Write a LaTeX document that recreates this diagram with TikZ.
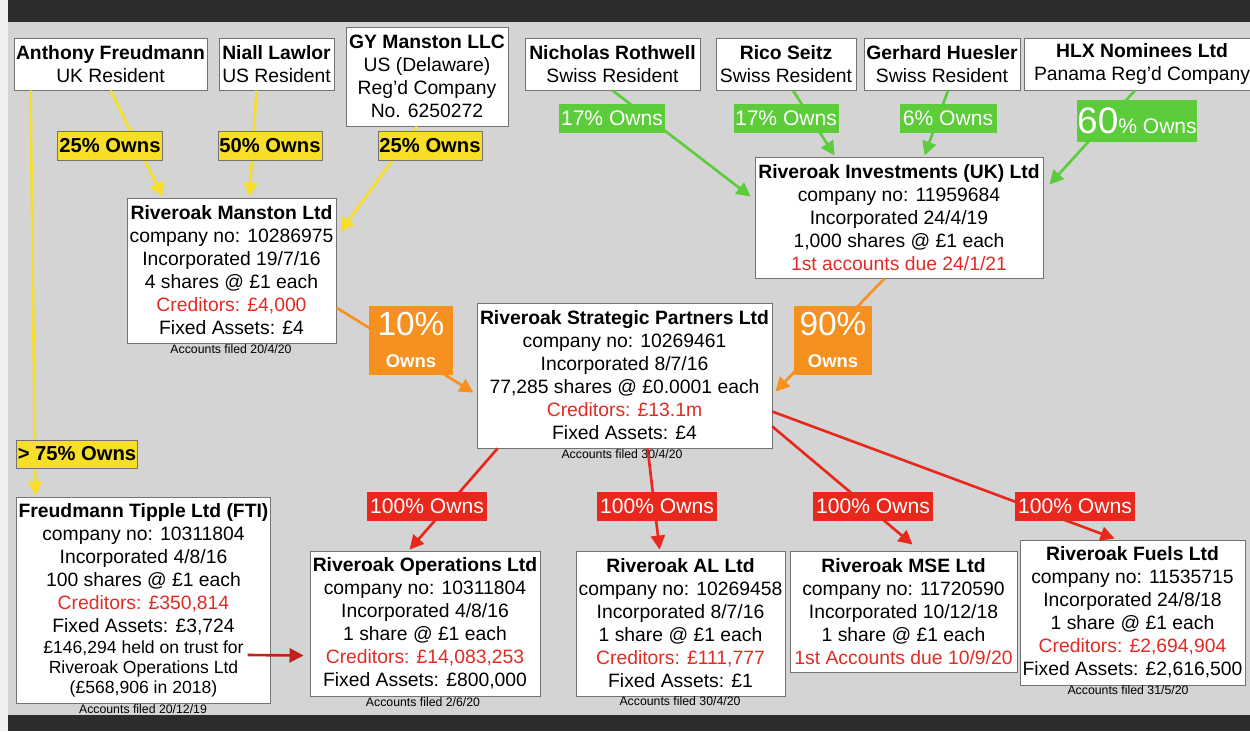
\documentclass[tikz,border=0pt]{standalone}
\usepackage{fontspec}
\setmainfont{Liberation Sans}
\usetikzlibrary{calc,arrows.meta}

\definecolor{bggray}{RGB}{212,212,212}
\definecolor{bandgray}{RGB}{44,44,44}
\definecolor{ownyellow}{RGB}{247,222,40}
\definecolor{owngreen}{RGB}{92,204,58}
\definecolor{ownorange}{RGB}{246,144,30}
\definecolor{ownred}{RGB}{232,40,28}
\definecolor{trustred}{RGB}{190,34,24}
\definecolor{credred}{RGB}{224,44,36}
\newcommand{\credtext}[1]{\textcolor{credred}{#1}}

\begin{document}
\begin{tikzpicture}[%
x=0.02cm, y=-0.02cm,
person/.style={fill=white, draw=black!55, line width=0.5pt, align=center, inner sep=1pt,
  minimum height=1.04cm, font=\fontsize{11}{13.1}\selectfont},
company/.style={person, minimum height=2.9cm},
filednote/.style={inner sep=0pt, font=\fontsize{7}{8}\selectfont},
ytag/.style={fill=ownyellow, draw=black!55, line width=0.4pt, inner sep=0pt, minimum height=0.58cm,
  font=\bfseries\fontsize{11.5}{13}\selectfont},
gtag/.style={fill=owngreen, text=white, inner sep=0pt, minimum height=0.58cm, font=\fontsize{12}{14}\selectfont},
rtag/.style={fill=ownred, text=white, inner sep=0pt, minimum height=0.58cm, font=\fontsize{12}{14}\selectfont},
otag/.style={fill=ownorange, text=white, align=center, inner sep=0pt, minimum height=1.38cm,
  font=\fontsize{10.5}{18}\selectfont},
owns/.style={line width=1.5pt, -{Triangle[length=8pt,width=8pt]}},
yown/.style={owns, draw=ownyellow},
gown/.style={owns, draw=owngreen},
oown/.style={owns, draw=ownorange},
rown/.style={owns, draw=ownred},
trust/.style={owns, draw=trustred},
]
\clip (0,0) rectangle (1250,731);
%% frame;
\fill [color=bggray] (0,0) rectangle (1250,731);
\fill [color=black!6] (0,0) rectangle (8,731);
\fill [color=bandgray] (8,0) rectangle (1250,22);
\fill [color=bandgray] (8,715) rectangle (1250,731);

%% owners;
\node [person, minimum width=3.86cm] (anthony) at (110.5,64) {\textbf{Anthony Freudmann}\\UK Resident};
\node [person, minimum width=2.3cm] (niall) at (276.5,64) {\textbf{Niall Lawlor}\\US Resident};
\node [person, minimum width=3.24cm, minimum height=1.98cm] (gyllc) at (427,76.5) {\textbf{GY Manston LLC}\\US (Delaware)\\Reg'd Company\\No. 6250272};
\node [person, minimum width=3.5cm] (nicholas) at (612.5,64) {\textbf{Nicholas Rothwell}\\Swiss Resident};
\node [person, minimum width=2.8cm] (rico) at (786,64) {\textbf{Rico Seitz}\\Swiss Resident};
\node [person, minimum width=3.12cm] (gerhard) at (942,64) {\textbf{Gerhard Huesler}\\Swiss Resident};
\node [person, minimum width=4.7cm] (hlx) at (1142,64) {\textbf{HLX Nominees Ltd}\\Panama Reg'd Company};

%% companies;
\node [company, minimum width=4.18cm] (manston) at (231.5,270.5) {\textbf{Riveroak Manston Ltd}\\company no: 10286975\\Incorporated 19/7/16\\4 shares @ £1 each\\\credtext{Creditors: £4,000}\\Fixed Assets: £4};
\node [company, minimum width=5.76cm, minimum height=2.42cm] (invest) at (899,217.5) {\textbf{Riveroak Investments (UK) Ltd}\\company no: 11959684\\Incorporated 24/4/19\\1,000 shares @ £1 each\\\credtext{1st accounts due 24/1/21}};
\node [company, minimum width=5.9cm] (strategic) at (624.5,375.5) {\textbf{Riveroak Strategic Partners Ltd}\\company no: 10269461\\Incorporated 8/7/16\\77,285 shares @ £0.0001 each\\\credtext{Creditors: £13.1m}\\Fixed Assets: £4};
\node [company, minimum width=5.06cm, minimum height=4.12cm] (fti) at (143.5,600) {\textbf{Freudmann Tipple Ltd (FTI)}\\company no: 10311804\\Incorporated 4/8/16\\100 shares @ £1 each\\\credtext{Creditors: £350,814}\\Fixed Assets: £3,724\\[-1pt]\fontsize{10}{11}\selectfont £146,294 held on trust for\\[-1.7pt]\fontsize{10}{11}\selectfont Riveroak Operations Ltd\\[-1.7pt]\fontsize{10}{11}\selectfont (£568,906 in 2018)};
\node [company, minimum width=4.6cm] (operations) at (425,623.5) {\textbf{Riveroak Operations Ltd}\\company no: 10311804\\Incorporated 4/8/16\\1 share @ £1 each\\\credtext{Creditors: £14,083,253}\\Fixed Assets: £800,000};
\node [company, minimum width=4.18cm] (al) at (680.5,623.5) {\textbf{Riveroak AL Ltd}\\company no: 10269458\\Incorporated 8/7/16\\1 share @ £1 each\\\credtext{Creditors: £111,777}\\Fixed Assets: £1};
\node [company, minimum width=4.54cm, minimum height=2.42cm] (mse) at (903.5,611.5) {\textbf{Riveroak MSE Ltd}\\company no: 11720590\\Incorporated 10/12/18\\1 share @ £1 each\\\credtext{1st Accounts due 10/9/20}};
\node [company, minimum width=4.5cm] (fuels) at (1132.5,612.5) {\textbf{Riveroak Fuels Ltd}\\company no: 11535715\\Incorporated 24/8/18\\1 share @ £1 each\\\credtext{Creditors: £2,694,904}\\Fixed Assets: £2,616,500};

%% accounts filed;
\node [filednote] (manstonfiled) at (231,349) {Accounts filed 20/4/20};
\node [filednote] (strategicfiled) at (622,454) {Accounts filed 30/4/20};
\node [filednote] (ftifiled) at (143,709) {Accounts filed 20/12/19};
\node [filednote] (operationsfiled) at (423,702) {Accounts filed 2/6/20};
\node [filednote] (alfiled) at (680,701) {Accounts filed 30/4/20};
\node [filednote] (fuelsfiled) at (1128,690) {Accounts filed 31/5/20};

%% yellow owns;
\draw [yown] (anthony.south) -- ($(manston.north west)+(36,-1)$);
\draw [yown] ($(niall.south)+(-20,0)$) -- ($(manston.north west)+(123,-1)$);
\draw [yown] ($(gyllc.south)+(-10,0)$) -- ($(manston.north east)+(4,34)$);
\draw [yown] ($(anthony.south west)+(17,0)$) -- ($(fti.north west)+(19,-1)$);
%% green owns;
\draw [gown] (nicholas.south) -- ($(invest.north west)+(-4,40)$);
\draw [gown] ($(rico.south)+(7,0)$) -- ($(invest.north west)+(80,-1)$);
\draw [gown] ($(gerhard.south)+(6,0)$) -- ($(invest.north west)+(170,-1)$);
\draw [gown] ($(hlx.south)+(-7,0)$) -- ($(invest.north east)+(6,28)$);
%% orange owns;
\draw [oown] ($(manston.north east)+(0,110)$) -- ($(strategic.north west)+(-3,90)$);
\draw [oown] ($(invest.south west)+(130,0)$) -- ($(strategic.north east)+(3,89)$);
%% red owns;
\draw [rown] ($(strategic.south west)+(21,0)$) -- ($(operations.north west)+(100,-1)$);
\draw [rown] ($(strategic.south west)+(171,0)$) -- ($(al.north west)+(84,-1)$);
\draw [rown] ($(strategic.north east)+(0,124)$) -- ($(mse.north west)+(123,-6)$);
\draw [rown] ($(strategic.north east)+(0,109)$) -- ($(fuels.north west)+(95,-1)$);
\draw [trust] ($(fti.east)+(-23,55)$) -- ($(operations.west)+(-6,32)$);

%% labels;
\node [ytag, minimum width=2.1cm] (own25a) at (110,146) {25\% Owns};
\node [ytag, minimum width=2.08cm] (own50) at (270,146) {50\% Owns};
\node [ytag, minimum width=2.08cm] (own25b) at (430,146) {25\% Owns};
\node [ytag, minimum width=2.42cm, minimum height=0.56cm] (own75) at (77,454) {> 75\% Owns};
\node [gtag, minimum width=2.14cm] (own17a) at (612,118) {17\% Owns};
\node [gtag, minimum width=2.1cm] (own17b) at (786,118) {17\% Owns};
\node [gtag, minimum width=1.94cm] (own6) at (948,118) {6\% Owns};
\node [gtag, minimum width=2.4cm, minimum height=0.84cm] (own60) at (1137,121) {{\fontsize{21}{22}\selectfont 60}\% Owns};
\node [otag, minimum width=1.68cm] (own10) at (411,340) {{\fontsize{19}{20}\selectfont 10\%}\\\textbf{Owns}};
\node [otag, minimum width=1.56cm] (own90) at (833,340) {{\fontsize{19}{20}\selectfont 90\%}\\\textbf{Owns}};
\node [rtag, minimum width=2.42cm] (own100a) at (427,506) {100\% Owns};
\node [rtag, minimum width=2.4cm] (own100b) at (657,506) {100\% Owns};
\node [rtag, minimum width=2.4cm] (own100c) at (873,506) {100\% Owns};
\node [rtag, minimum width=2.4cm] (own100d) at (1075,506) {100\% Owns};
\end{tikzpicture}
\end{document}
